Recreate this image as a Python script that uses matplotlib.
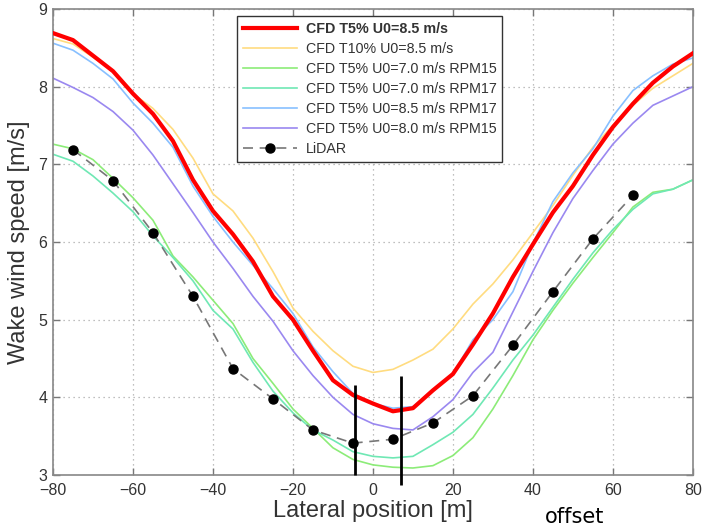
import matplotlib
matplotlib.use('Agg')
import matplotlib.pyplot as plt

# lateral positions of the CFD profiles [m]
x_cfd = [-80, -75, -70, -65, -60, -55, -50, -45, -40, -35, -30, -25, -20, -15, -10, -5,
         0, 5, 10, 15, 20, 25, 30, 35, 40, 45, 50, 55, 60, 65, 70, 75, 80]

t5_u85 = [8.69, 8.60, 8.40, 8.20, 7.91, 7.65, 7.30, 6.80, 6.40, 6.10, 5.75, 5.30, 5.00, 4.60, 4.22, 4.03,
          3.92, 3.82, 3.86, 4.09, 4.30, 4.68, 5.08, 5.55, 5.97, 6.38, 6.72, 7.12, 7.48, 7.78, 8.05, 8.26, 8.43]
t10_u85 = [8.62, 8.55, 8.38, 8.20, 7.91, 7.72, 7.45, 7.08, 6.62, 6.40, 6.05, 5.62, 5.15, 4.85, 4.60, 4.40,
           4.32, 4.36, 4.48, 4.62, 4.88, 5.20, 5.46, 5.77, 6.12, 6.47, 6.86, 7.22, 7.50, 7.76, 7.98, 8.14, 8.30]
t5_u70_rpm15 = [7.26, 7.20, 7.06, 6.82, 6.57, 6.28, 5.82, 5.55, 5.25, 4.95, 4.50, 4.18, 3.85, 3.60, 3.35, 3.20,
                3.13, 3.10, 3.09, 3.12, 3.25, 3.48, 3.85, 4.28, 4.74, 5.12, 5.47, 5.80, 6.12, 6.45, 6.64, 6.68, 6.80]
t5_u70_rpm17 = [7.13, 7.04, 6.85, 6.63, 6.39, 6.08, 5.80, 5.50, 5.12, 4.88, 4.45, 4.08, 3.80, 3.58, 3.45, 3.30,
                3.24, 3.22, 3.24, 3.39, 3.55, 3.78, 4.12, 4.48, 4.80, 5.16, 5.52, 5.86, 6.16, 6.42, 6.62, 6.68, 6.80]
t5_u85_rpm17 = [8.56, 8.47, 8.30, 8.10, 7.79, 7.53, 7.22, 6.72, 6.33, 6.00, 5.70, 5.40, 5.08, 4.65, 4.33, 4.05,
                3.92, 3.86, 3.88, 4.08, 4.30, 4.74, 5.00, 5.36, 5.98, 6.52, 6.89, 7.20, 7.62, 7.95, 8.14, 8.29, 8.37]
t5_u80_rpm15 = [8.11, 7.99, 7.86, 7.68, 7.44, 7.12, 6.75, 6.38, 6.00, 5.66, 5.30, 4.98, 4.60, 4.28, 4.00, 3.78,
                3.66, 3.60, 3.58, 3.75, 3.97, 4.32, 4.58, 5.10, 5.62, 6.12, 6.56, 6.92, 7.26, 7.53, 7.76, 7.88, 8.00]

x_lidar = [-75, -65, -55, -45, -35, -25, -15, -5, 5, 15, 25, 35, 45, 55, 65]
lidar = [7.19, 6.79, 6.12, 5.30, 4.37, 3.98, 3.58, 3.41, 3.46, 3.67, 4.02, 4.67, 5.36, 6.04, 6.60]

# hand-drawn offset markers
offset_x = [-4.5, 7.0]
offset_top = [4.16, 4.28]
offset_bottom = [3.0, 2.87]

plt.rcParams['font.family'] = ['Liberation Sans', 'DejaVu Sans']

fig = plt.figure(figsize=(7.02, 5.31), dpi=100)
ax = fig.add_axes([0.0755, 0.1055, 0.9115, 0.8775])

ax.plot(x_cfd, t5_u85, color='#ff0000', lw=3.0, label='CFD T5% U0=8.5 m/s', zorder=5)
ax.plot(x_cfd, t10_u85, color='#ffdc80', lw=1.2, label='CFD T10% U0=8.5 m/s')
ax.plot(x_cfd, t5_u70_rpm15, color='#8cec78', lw=1.2, label='CFD T5% U0=7.0 m/s RPM15')
ax.plot(x_cfd, t5_u70_rpm17, color='#6fe8b4', lw=1.2, label='CFD T5% U0=7.0 m/s RPM17')
ax.plot(x_cfd, t5_u85_rpm17, color='#88c0ff', lw=1.2, label='CFD T5% U0=8.5 m/s RPM17')
ax.plot(x_cfd, t5_u80_rpm15, color='#9a88f0', lw=1.2, label='CFD T5% U0=8.0 m/s RPM15')
ax.plot(x_lidar, lidar, color='#777777', ls=(0, (6, 4)), lw=1.2, marker='o', ms=6.5,
        mfc='black', mec='black', label='LiDAR', zorder=6)

ax.vlines(offset_x, offset_bottom, offset_top, colors='black', lw=2, zorder=7, clip_on=False)

ax.set_xlim(-80, 80)
ax.set_ylim(3, 9)
ax.set_xticks(range(-80, 81, 20))
ax.set_yticks(range(3, 10))
ax.set_xticklabels(['\u221280', '\u221260', '\u221240', '\u221220', '0', '20', '40', '60', '80'])
ax.grid(True, ls=(0, (1, 3)), color='#aaaaaa', lw=0.9)
ax.tick_params(direction='in', length=5, width=1, colors='#777777', labelcolor='#333333',
               labelsize=11.5, top=True, right=True)
ax.tick_params(axis='x', pad=6)
ax.tick_params(axis='y', pad=4)
for s in ax.spines.values():
    s.set_color('#888888')
    s.set_linewidth(1.2)

ax.set_xlabel('Lateral position [m]', fontsize=17, color='#333333', labelpad=1)
ax.set_ylabel('Wake wind speed [m/s]', fontsize=17, color='#333333', labelpad=6)

leg = ax.legend(loc='upper left', bbox_to_anchor=(0.2875, 0.985), borderaxespad=0,
                fontsize=10.3, handlelength=3.8, labelspacing=0.42, borderpad=0.4,
                handletextpad=0.6, fancybox=False, framealpha=1, edgecolor='#333333')
leg.get_frame().set_linewidth(1.0)
for i, t in enumerate(leg.get_texts()):
    t.set_color('#333333')
    if i == 0:
        t.set_fontweight('bold')

fig.text(0.819, 0.026, 'offset', fontsize=15, ha='center', va='center', family='DejaVu Sans')

fig.savefig('out.png', dpi=100)
